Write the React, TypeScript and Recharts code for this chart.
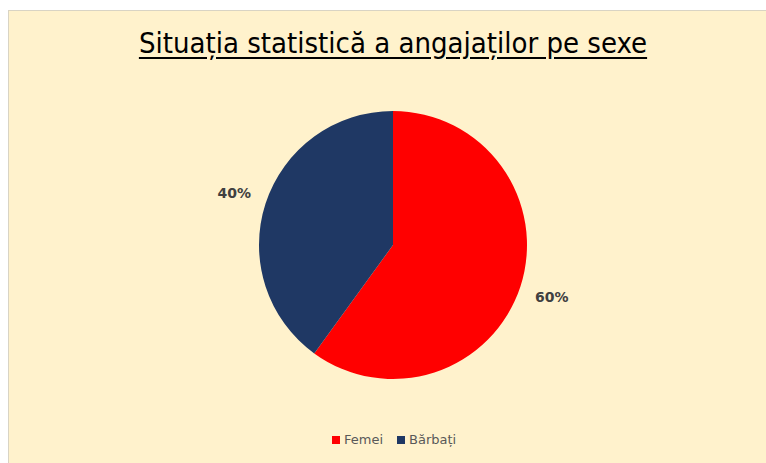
import { PieChart, Pie, Cell } from "recharts";

const categories = ["Femei", "Bărbați"];
const values = [60, 40];
const colors = ["#FF0000", "#1F3864"];

const data = categories.map((name, i) => ({ name, value: values[i] }));

const RAD = Math.PI / 180;

const renderLabel = (props: any) => {
  const { cx, cy, midAngle, outerRadius, percent } = props;
  const r = outerRadius + 33;
  const x = cx + r * Math.cos(-midAngle * RAD);
  const y = cy + r * Math.sin(-midAngle * RAD);
  return (
    <text
      x={x}
      y={y}
      fill="#404040"
      textAnchor="middle"
      dominantBaseline="central"
      fontSize={14}
      fontWeight="bold"
      fontFamily="'DejaVu Sans', sans-serif"
    >
      {`${Math.round(percent * 100)}%`}
    </text>
  );
};

export default function App() {
  return (
    <div style={{ position: "absolute", left: 0, top: 0, width: 766, height: 463, background: "#ffffff", overflow: "hidden" }}>
      <div
        style={{
          position: "absolute",
          left: 8,
          top: 10,
          width: 758,
          height: 453,
          background: "#FFF2CC",
          borderLeft: "1px solid #d9d4c4",
          borderTop: "1px solid #d9d4c4",
        }}
      />
      <div
        style={{
          position: "absolute",
          left: 0,
          top: 26,
          width: 786,
          textAlign: "center",
          fontFamily: "'DejaVu Sans Condensed', 'DejaVu Sans', sans-serif",
          fontSize: 29,
          color: "#000000",
          textDecoration: "underline",
          textUnderlineOffset: 4,
        }}
      >
        Situația statistică a angajaților pe sexe
      </div>
      <div style={{ position: "absolute", left: 0, top: 0 }}>
        <PieChart width={766} height={463} margin={{ top: 0, right: 0, bottom: 0, left: 0 }}>
          <Pie
            data={data}
            dataKey="value"
            nameKey="name"
            cx={393}
            cy={245}
            outerRadius={134}
            startAngle={90}
            endAngle={-270}
            stroke="none"
            label={renderLabel}
            labelLine={false}
            isAnimationActive={false}
          >
            {data.map((d, i) => (
              <Cell key={d.name} fill={colors[i]} />
            ))}
          </Pie>
        </PieChart>
      </div>
      <div
        style={{
          position: "absolute",
          left: 332,
          top: 432,
          display: "flex",
          alignItems: "center",
          fontFamily: "'DejaVu Sans', sans-serif",
          fontSize: 13,
          color: "#595959",
          whiteSpace: "nowrap",
        }}
      >
        {categories.map((name, i) => (
          <span key={name} style={{ display: "flex", alignItems: "center", marginRight: 14 }}>
            <span style={{ display: "inline-block", width: 8, height: 8, background: colors[i], marginRight: 4 }} />
            {name}
          </span>
        ))}
      </div>
    </div>
  );
}
